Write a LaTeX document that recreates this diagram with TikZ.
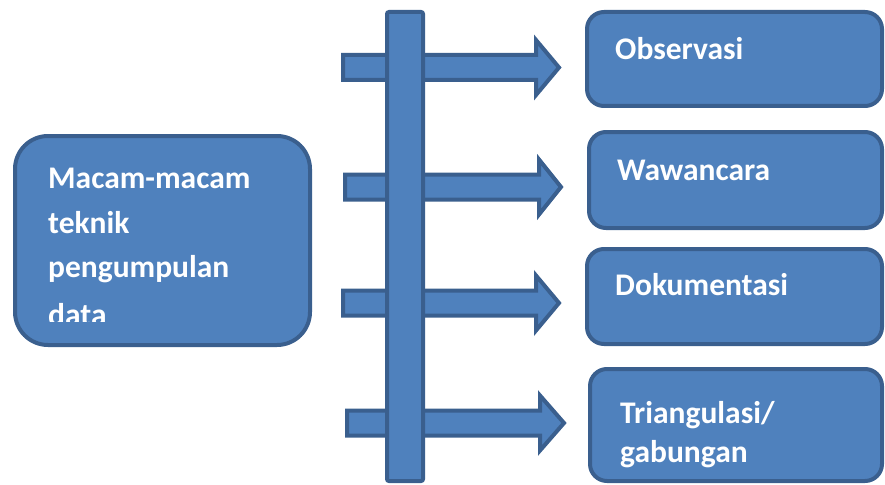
\documentclass[tikz,border=0pt]{standalone}
\usepackage{fontspec}
\setmainfont{Carlito}
\definecolor{fillb}{HTML}{4F81BD}
\definecolor{edgeb}{HTML}{3A5F8E}
\begin{document}
\begin{tikzpicture}[x=1pt,y=-1pt,
  shp/.style={fill=fillb,draw=edgeb,line width=4pt},
  box/.style={shp,rectangle,anchor=north west,inner sep=0pt,outer sep=0pt},
  lbl/.style={text=white,font=\fontsize{31.5}{36}\selectfont\bfseries,anchor=base west,inner sep=0pt},
  blockarrow/.style={shp,line join=miter}]
\useasboundingbox (0,0) rectangle (885,484);
% left box
\node[box,rounded corners=33pt,minimum width=295pt,minimum height=209pt] (src) at (15,136) {};
\node[lbl] (t1) at (48,188) {Macam-macam};
\node[lbl] (t2) at (48,233) {teknik};
\node[lbl] (t3) at (48,277) {pengumpulan};
\begin{scope}
\clip (0,0) rectangle (885,321);
\node[lbl] (t4) at (48,325) {data};
\end{scope}
% block arrows
\coordinate (a1) at (343,67.5);
\coordinate (a2) at (345,187);
\coordinate (a3) at (343,303);
\coordinate (a4) at (347,423);
\foreach \c/\hb/\tip in {a1/193/216, a2/194/216, a3/193/216, a4/193/217}{
  \draw[blockarrow] (\c) ++(0,-12.5) -- ++(\hb,0) -- ++(0,-15) -- ++(\tip-\hb,27.5) -- ++(\hb-\tip,27.5) -- ++(0,-15) -- ++(-\hb,0) -- cycle;
}
% vertical bar
\node[box,rounded corners=2pt,minimum width=36pt,minimum height=469pt] (bar) at (387,12) {};
% right boxes
\node[box,rounded corners=17pt,minimum width=295pt,minimum height=94pt] (obs) at (587,12) {};
\node[lbl] (tobs) at (615,60) {Observasi};
\node[box,rounded corners=17pt,minimum width=293pt,minimum height=96pt] (waw) at (589,132) {};
\node[lbl] (twaw) at (617,180) {Wawancara};
\node[box,rounded corners=17pt,minimum width=295pt,minimum height=95pt] (dok) at (587,249) {};
\node[lbl] (tdok) at (615,295) {Dokumentasi};
\node[box,rounded corners=17pt,minimum width=292pt,minimum height=112pt] (tri) at (590,369) {};
\node[lbl] (ttri1) at (620,423) {Triangulasi/};
\node[lbl] (ttri2) at (620,462) {gabungan};
\end{tikzpicture}
\end{document}
